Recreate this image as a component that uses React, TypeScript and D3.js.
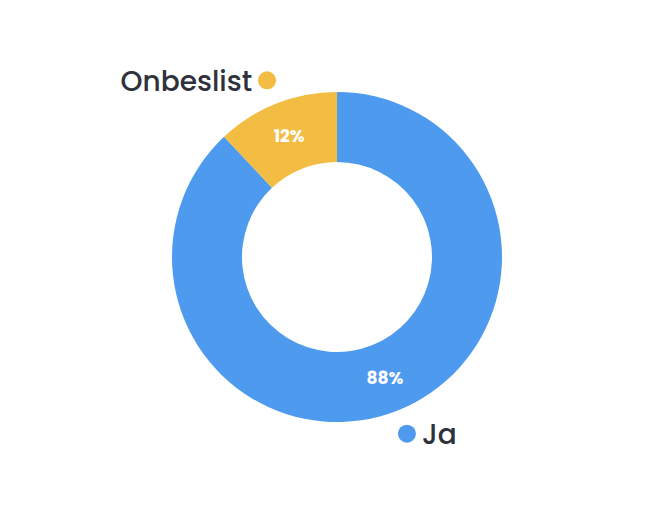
import { useEffect, useRef } from "react";
import * as d3 from "d3";

const labels = ["Ja", "Onbeslist"];
const values = [88, 12];
const colors = ["#4D9AEE", "#F2BD42"];

const App = () => {
  const svgRef = useRef<SVGSVGElement>(null);

  useEffect(() => {
    const svg = d3.select(svgRef.current);
    const width = 663;
    const height = 529;
    const cx = 337;
    const cy = 257;
    const outer = 165;
    const inner = 95;

    svg.selectAll("*").remove();

    const pie = d3.pie<number>().sort(null)(values);
    const arc = d3.arc<d3.PieArcDatum<number>>().innerRadius(inner).outerRadius(outer);
    const labelArc = d3.arc<d3.PieArcDatum<number>>().innerRadius(190).outerRadius(190);

    const g = svg.append("g").attr("transform", `translate(${cx},${cy})`);

    // Slices
    g.selectAll("path")
      .data(pie)
      .enter()
      .append("path")
      .attr("d", arc)
      .attr("fill", (d, i) => colors[i]);

    // Percent labels
    g.selectAll(".pct")
      .data(pie)
      .enter()
      .append("text")
      .attr("class", "pct")
      .attr("transform", (d) => `translate(${arc.centroid(d)})`)
      .attr("text-anchor", "middle")
      .attr("dominant-baseline", "central")
      .attr("fill", "#fff")
      .attr("font-family", "Poppins, Lato, 'Open Sans', sans-serif")
      .attr("font-weight", "bold")
      .attr("font-size", 17)
      .text((d) => `${d.data}%`);

    // Outside labels with dot
    const outside = g.selectAll(".lab").data(pie).enter().append("g")
      .attr("transform", (d) => `translate(${labelArc.centroid(d)})`);

    outside.append("circle").attr("r", 9).attr("fill", (d, i) => colors[i]);

    outside
      .append("text")
      .attr("x", (d) => (labelArc.centroid(d)[0] < 0 ? -15 : 15))
      .attr("y", 1)
      .attr("text-anchor", (d) => (labelArc.centroid(d)[0] < 0 ? "end" : "start"))
      .attr("dominant-baseline", "central")
      .attr("fill", "#2E323C")
      .attr("font-family", "Poppins, Lato, 'Open Sans', sans-serif")
      .attr("font-weight", 500)
      .attr("font-size", 28)
      .text((d, i) => labels[i]);

    svg.attr("width", width).attr("height", height);
  }, []);

  return (
    <svg
      ref={svgRef}
      width={663}
      height={529}
      style={{ position: "absolute", left: 0, top: 0, background: "#fff" }}
    ></svg>
  );
};

export default App;
